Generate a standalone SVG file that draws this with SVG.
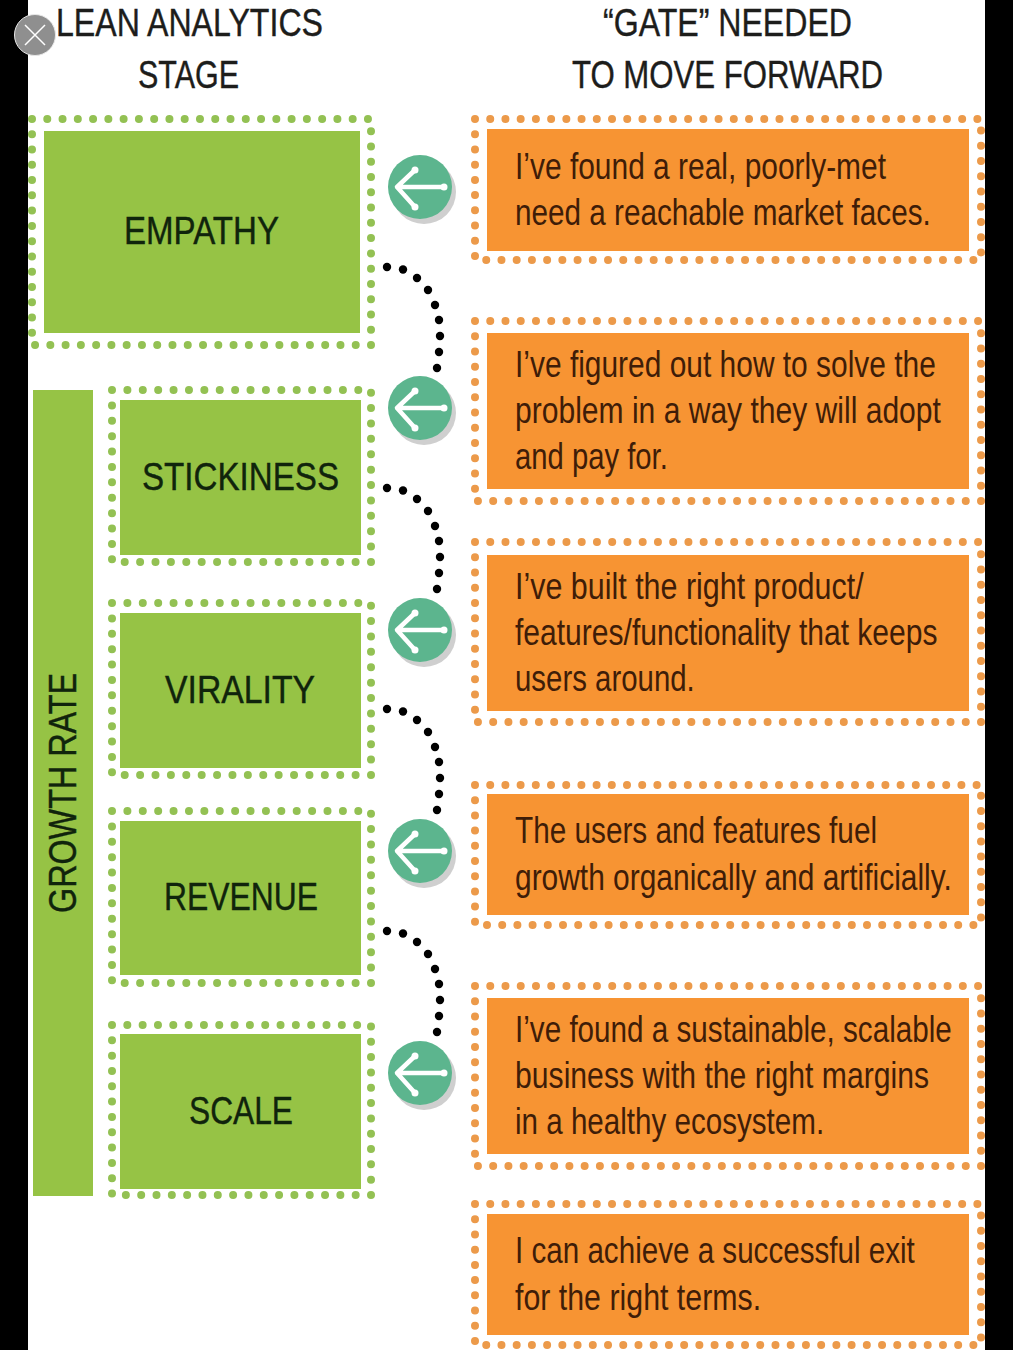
<svg xmlns="http://www.w3.org/2000/svg" xmlns:xlink="http://www.w3.org/1999/xlink" width="1013" height="1350" viewBox="0 0 1013 1350">
<style>
text{font-family:"Liberation Sans",Arial,sans-serif}
.h{font-size:38px;fill:#1d1d1b;stroke:#1d1d1b;stroke-width:.4}
.s{font-size:38px;fill:#10240c;stroke:#10240c;stroke-width:.4}
.t{font-size:37px;fill:#3f1d08}
.g{fill:#96c345}
.o{fill:#f79433}
.gd{fill:none;stroke:#93c153;stroke-width:8;stroke-linecap:round;stroke-dasharray:0 1}
.od{fill:none;stroke:#ec9a4a;stroke-width:8;stroke-linecap:round;stroke-dasharray:0 1}
</style>
<defs>
<g id="gate">
<circle cx="4" cy="5" r="32" fill="#cfcfcf"/>
<circle r="32" fill="#5cb58e"/>
<path d="M-23 0H24M-5 -17L-23 0L-5 20" fill="none" stroke="#fff" stroke-width="4.500" stroke-linecap="round" stroke-linejoin="round"/>
<circle cx="-5" cy="-17" r="3.500" fill="#fff"/><circle cx="-5" cy="20" r="3.500" fill="#fff"/><circle cx="24" r="3.500" fill="#fff"/>
</g>
<g id="curve">
<circle cx="387" cy="267" r="4.200"/><circle cx="403" cy="269.500" r="4.200"/><circle cx="417" cy="278" r="4.200"/><circle cx="428" cy="290" r="4.200"/><circle cx="435" cy="305" r="4.200"/><circle cx="439" cy="320" r="4.200"/><circle cx="440" cy="336" r="4.200"/><circle cx="439" cy="352" r="4.200"/><circle cx="437" cy="368" r="4.200"/>
</g>
</defs>
<rect width="1013" height="1350" fill="#fff"/>
<rect width="28" height="1350" fill="#000"/>
<rect x="985" width="28" height="1350" fill="#000"/>

<g id="header-stage">
<text class="h" x="56" y="36" textLength="267" lengthAdjust="spacingAndGlyphs">LEAN ANALYTICS</text>
<text class="h" x="138" y="88" textLength="101" lengthAdjust="spacingAndGlyphs">STAGE</text>
</g>
<g id="header-gate">
<text class="h" x="603" y="36" textLength="249" lengthAdjust="spacingAndGlyphs">“GATE” NEEDED</text>
<text class="h" x="572" y="88" textLength="311" lengthAdjust="spacingAndGlyphs">TO MOVE FORWARD</text>
</g>

<g id="growth-rate">
<rect class="g" x="33" y="390" width="60" height="806"/>
<text class="s" transform="translate(76 913) rotate(-90)" textLength="240" lengthAdjust="spacingAndGlyphs">GROWTH RATE</text>
</g>

<g id="empathy">
<rect class="gd" x="32" y="119" width="339" height="226" pathLength="74"/>
<rect class="g" x="44" y="131" width="316" height="202"/>
<text class="s" x="124" y="244" textLength="155" lengthAdjust="spacingAndGlyphs">EMPATHY</text>
</g>
<g id="stickiness">
<rect class="gd" x="112" y="390" width="259" height="172" pathLength="56"/>
<rect class="g" x="120" y="400" width="241" height="155"/>
<text class="s" x="142" y="490" textLength="197" lengthAdjust="spacingAndGlyphs">STICKINESS</text>
</g>
<g id="virality">
<rect class="gd" x="112" y="603" width="259" height="172" pathLength="56"/>
<rect class="g" x="120" y="613" width="241" height="155"/>
<text class="s" x="165" y="703" textLength="150" lengthAdjust="spacingAndGlyphs">VIRALITY</text>
</g>
<g id="revenue">
<rect class="gd" x="112" y="811" width="259" height="172" pathLength="56"/>
<rect class="g" x="120" y="821" width="241" height="154"/>
<text class="s" x="164" y="910" textLength="154" lengthAdjust="spacingAndGlyphs">REVENUE</text>
</g>
<g id="scale">
<rect class="gd" x="112" y="1025" width="259" height="170" pathLength="56"/>
<rect class="g" x="120" y="1034" width="241" height="155"/>
<text class="s" x="189" y="1124" textLength="104" lengthAdjust="spacingAndGlyphs">SCALE</text>
</g>

<g id="gate-1">
<rect class="od" x="475" y="119" width="506" height="141" pathLength="85"/>
<rect class="o" x="487" y="129" width="482" height="122"/>
<text class="t" transform="translate(515 179) scale(.84 1)" textLength="441.700" lengthAdjust="spacingAndGlyphs">I’ve found a real, poorly-met</text>
<text class="t" transform="translate(515 225) scale(.84 1)" textLength="495" lengthAdjust="spacingAndGlyphs">need a reachable market faces.</text>
</g>
<g id="gate-2">
<rect class="od" x="475" y="321" width="506" height="180" pathLength="90"/>
<rect class="o" x="487" y="333" width="482" height="156"/>
<text class="t" transform="translate(515 377) scale(.84 1)" textLength="501" lengthAdjust="spacingAndGlyphs">I’ve figured out how to solve the</text>
<text class="t" transform="translate(515 423) scale(.84 1)" textLength="507" lengthAdjust="spacingAndGlyphs">problem in a way they will adopt</text>
<text class="t" transform="translate(515 469) scale(.84 1)" textLength="182" lengthAdjust="spacingAndGlyphs">and pay for.</text>
</g>
<g id="gate-3">
<rect class="od" x="475" y="542" width="506" height="180" pathLength="90"/>
<rect class="o" x="487" y="555" width="482" height="156"/>
<text class="t" transform="translate(515 599) scale(.84 1)" textLength="415" lengthAdjust="spacingAndGlyphs">I’ve built the right product/</text>
<text class="t" transform="translate(515 645) scale(.84 1)" textLength="503" lengthAdjust="spacingAndGlyphs">features/functionality that keeps</text>
<text class="t" transform="translate(515 691) scale(.84 1)" textLength="214" lengthAdjust="spacingAndGlyphs">users around.</text>
</g>
<g id="gate-4">
<rect class="od" x="475" y="785" width="506" height="140" pathLength="85"/>
<rect class="o" x="487" y="794" width="482" height="121"/>
<text class="t" transform="translate(515 843) scale(.84 1)" textLength="431" lengthAdjust="spacingAndGlyphs">The users and features fuel</text>
<text class="t" transform="translate(515 890) scale(.84 1)" textLength="520" lengthAdjust="spacingAndGlyphs">growth organically and artificially.</text>
</g>
<g id="gate-5">
<rect class="od" x="475" y="986" width="506" height="180" pathLength="90"/>
<rect class="o" x="487" y="998" width="482" height="156"/>
<text class="t" transform="translate(515 1042) scale(.84 1)" textLength="520" lengthAdjust="spacingAndGlyphs">I’ve found a sustainable, scalable</text>
<text class="t" transform="translate(515 1088) scale(.84 1)" textLength="493" lengthAdjust="spacingAndGlyphs">business with the right margins</text>
<text class="t" transform="translate(515 1134) scale(.84 1)" textLength="368" lengthAdjust="spacingAndGlyphs">in a healthy ecosystem.</text>
</g>
<g id="gate-6">
<rect class="od" x="475" y="1204" width="506" height="141" pathLength="85"/>
<rect class="o" x="487" y="1214" width="482" height="121"/>
<text class="t" transform="translate(515 1263) scale(.84 1)" textLength="476" lengthAdjust="spacingAndGlyphs">I can achieve a successful exit</text>
<text class="t" transform="translate(515 1310) scale(.84 1)" textLength="293" lengthAdjust="spacingAndGlyphs">for the right terms.</text>
</g>

<g id="connectors">
<use xlink:href="#curve" href="#curve"/>
<use xlink:href="#curve" href="#curve" y="221"/>
<use xlink:href="#curve" href="#curve" y="442"/>
<use xlink:href="#curve" href="#curve" y="664"/>
<use xlink:href="#gate" href="#gate" x="420" y="187"/>
<use xlink:href="#gate" href="#gate" x="420" y="408"/>
<use xlink:href="#gate" href="#gate" x="420" y="630"/>
<use xlink:href="#gate" href="#gate" x="420" y="851"/>
<use xlink:href="#gate" href="#gate" x="420" y="1073"/>
</g>

<g id="close-button">
<circle cx="35" cy="35" r="20.500" fill="#8f8f8f" stroke="#e8e8e8" stroke-width="1"/>
<path d="M25 25L45 45M45 25L25 45" stroke="#fff" stroke-width="1.500" fill="none"/>
</g>
</svg>
